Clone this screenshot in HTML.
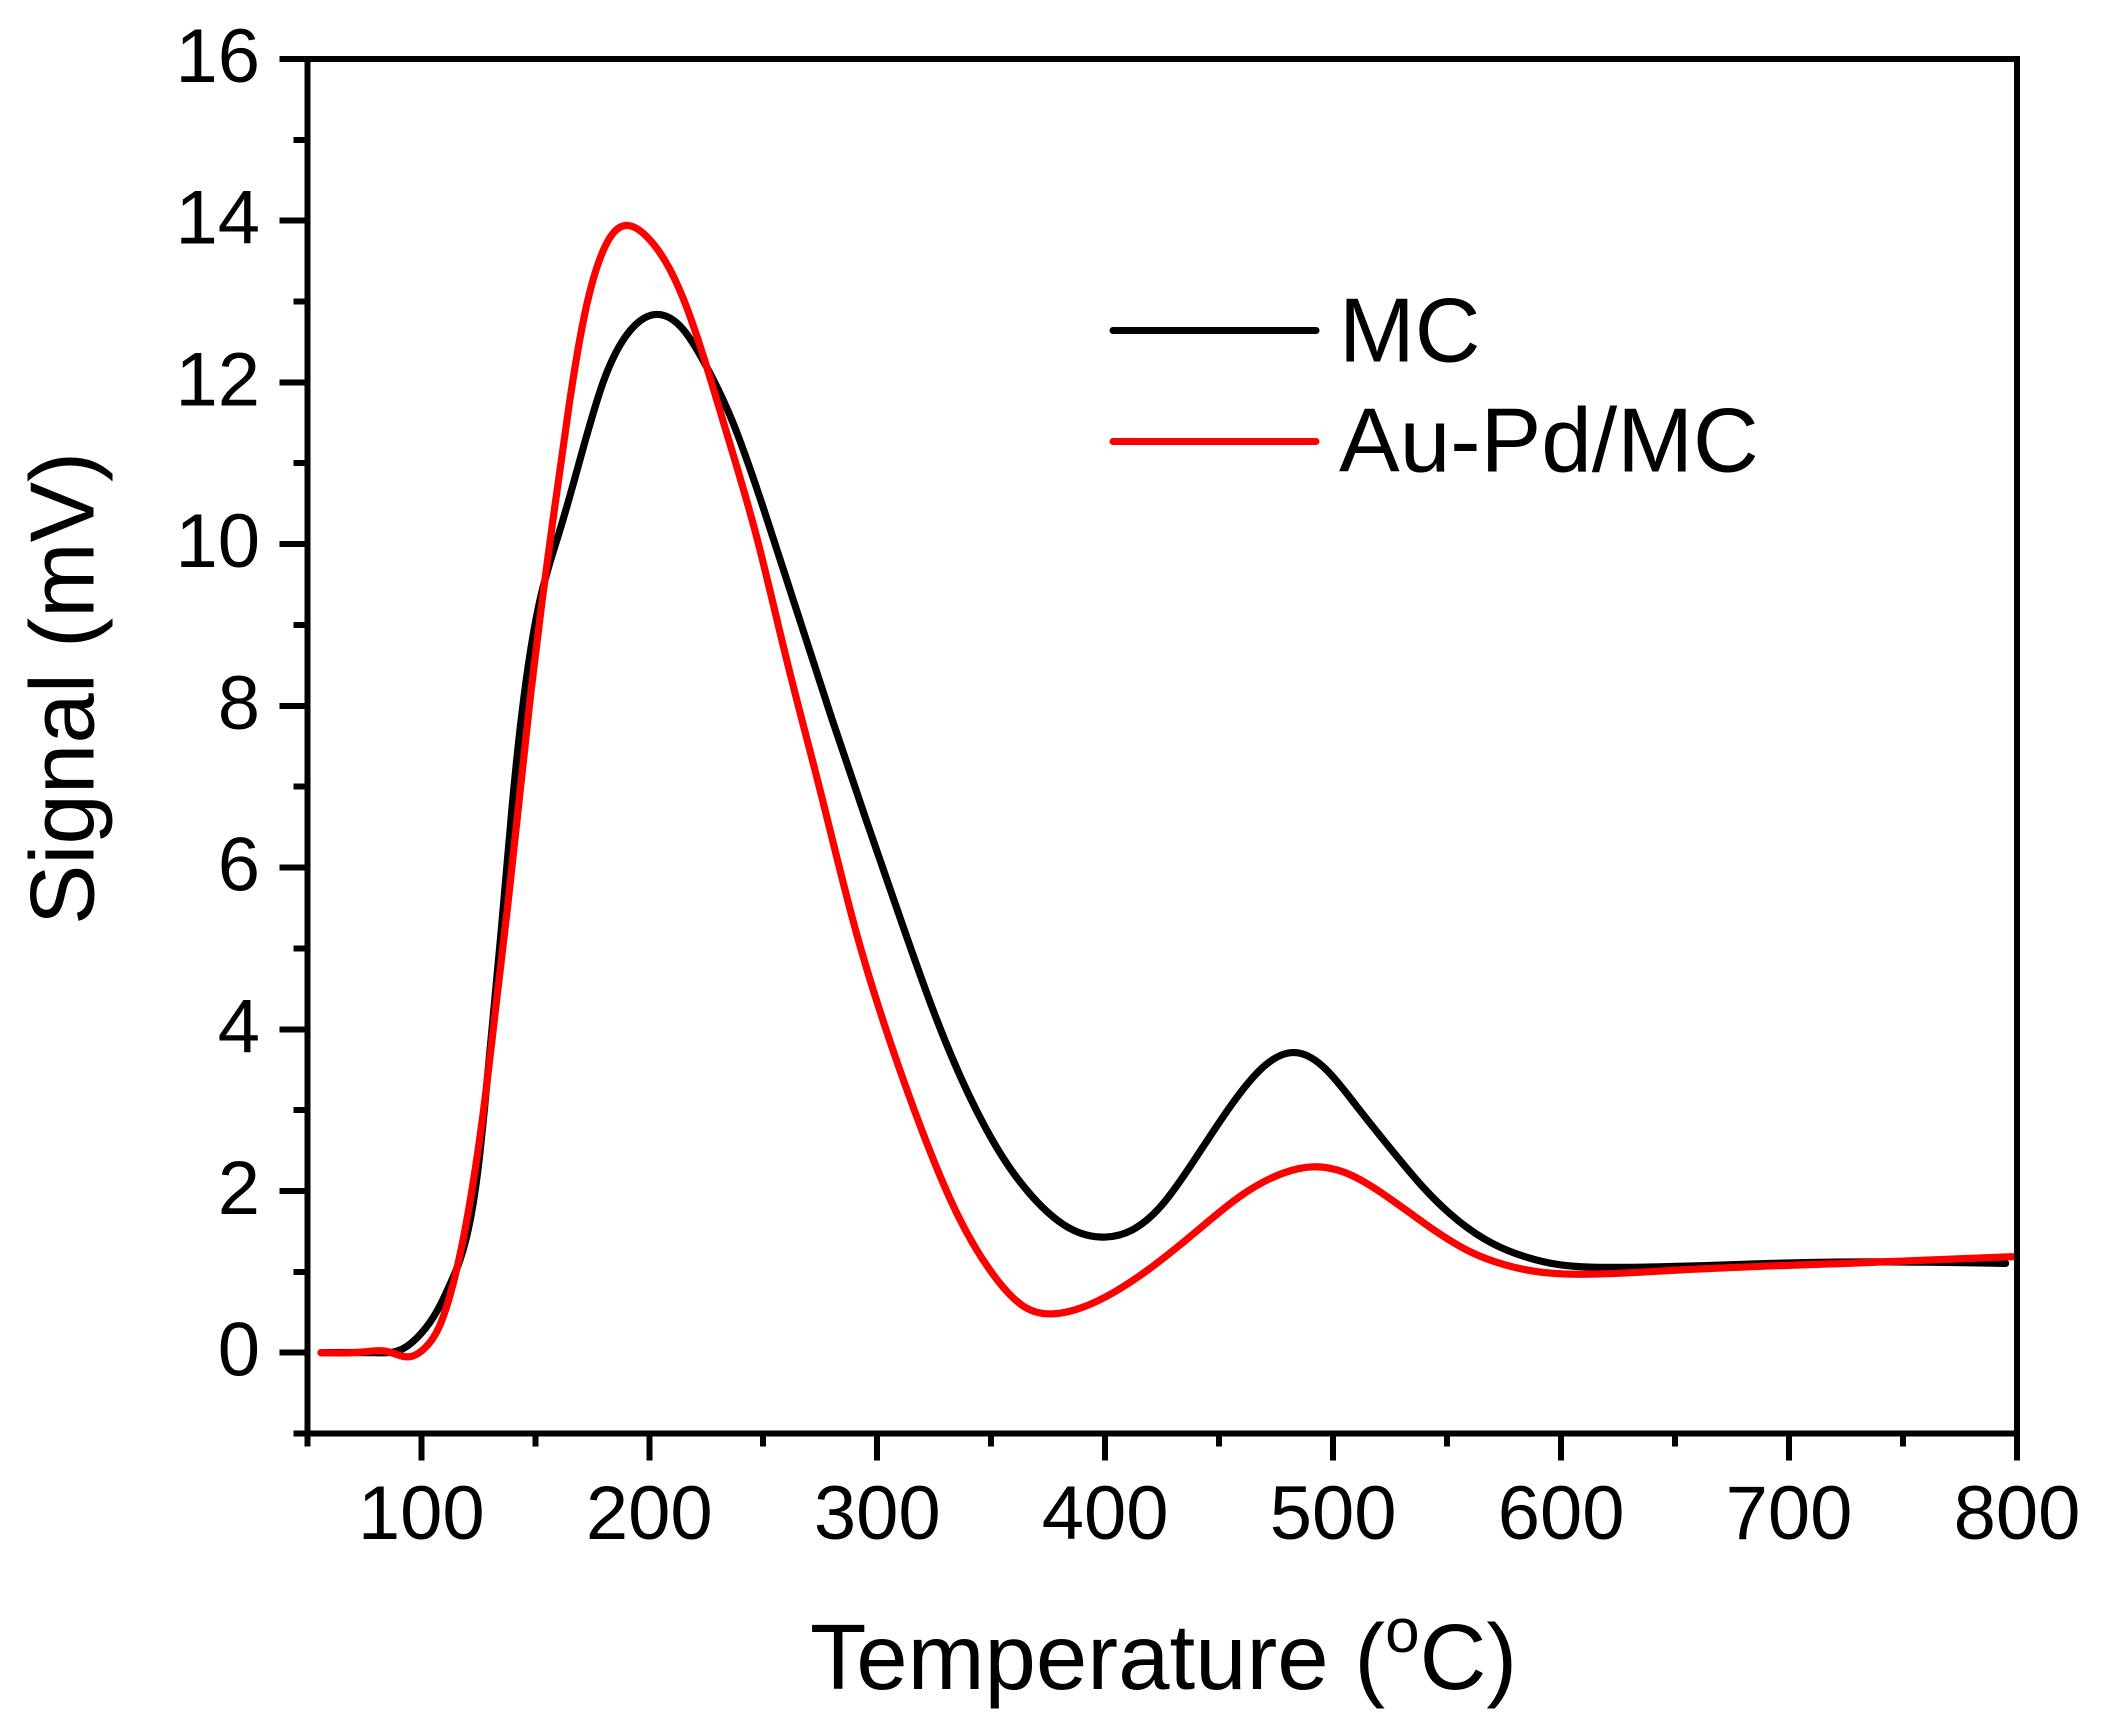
<!DOCTYPE html>
<html lang="en">
<head>
<meta charset="utf-8">
<title>Signal vs Temperature</title>
<style>
  html, body { margin: 0; padding: 0; background: #fff; }
  body { width: 2101px; height: 1725px; overflow: hidden; }
  svg { display: block; }
  text { font-family: "Liberation Sans", Arial, sans-serif; fill: #000; }
</style>
</head>
<body>
<svg id="chart" xmlns="http://www.w3.org/2000/svg" width="2101" height="1725" viewBox="0 0 2101 1725">
  <rect x="0" y="0" width="2101" height="1725" fill="#fff"/>
  <g id="series" fill="none" stroke-width="7.2" stroke-linejoin="round"></g>
  <g id="axes" stroke="#000" stroke-width="6" fill="none"></g>
  <g id="labels" font-size="76"></g>
  <text font-size="90.6" transform="translate(93.5 925) rotate(-90)">Signal (mV)</text>
  <text font-size="92.4" x="810" y="1689">Temperature (<tspan font-size="62" dy="-37">o</tspan><tspan dy="37">C)</tspan></text>
  <g>
    <line x1="1113" y1="330.5" x2="1316" y2="330.5" stroke="#000" stroke-width="7" stroke-linecap="round"/>
    <text font-size="91" x="1339" y="361.5">MC</text>
    <line x1="1113" y1="441.5" x2="1316" y2="441.5" stroke="#f00" stroke-width="7" stroke-linecap="round"/>
    <text font-size="91" x="1339" y="471.5">Au-Pd/MC</text>
  </g>
</svg>
<script>
const xTickValues = [100, 200, 300, 400, 500, 600, 700, 800];
const xMinorTickValues = [50, 150, 250, 350, 450, 550, 650, 750];
const yTickValues = [0, 2, 4, 6, 8, 10, 12, 14, 16];
const yMinorTickValues = [-1, 1, 3, 5, 7, 9, 11, 13, 15];

const mcTemperature = [56, 80, 92, 100, 107, 113, 120, 125, 130, 135, 140, 145, 152, 160, 168, 180, 191, 203, 215, 225, 236, 250, 265, 280, 295, 310, 325, 340, 355, 370, 385, 400, 412, 425, 440, 455, 470, 484, 497, 510, 525, 540, 555, 570, 585, 600, 620, 700, 760, 795];
const mcSignal = [0, 0, 0.05, 0.24, 0.52, 0.87, 1.45, 2.3, 3.7, 5.2, 6.8, 8.1, 9.3, 10.1, 10.88, 12.02, 12.62, 12.84, 12.65, 12.2, 11.55, 10.45, 9.15, 7.85, 6.6, 5.38, 4.2, 3.2, 2.42, 1.87, 1.53, 1.43, 1.52, 1.83, 2.42, 3.05, 3.55, 3.71, 3.5, 3.06, 2.53, 2.03, 1.63, 1.35, 1.18, 1.085, 1.055, 1.11, 1.12, 1.105];

const auPdTemperature = [56, 75, 85, 95, 102, 108, 113, 118, 123, 128, 133, 138, 143, 148, 153, 158, 165, 171, 177, 184, 191, 199, 207, 215, 224, 234, 247, 260, 275, 290, 305, 320, 335, 350, 365, 377, 390, 404, 420, 440, 460, 478, 492, 505, 520, 540, 560, 575, 590, 610, 650, 725, 798];
const auPdSignal = [0, 0.01, 0.015, -0.05, 0.07, 0.33, 0.75, 1.35, 2.15, 3.15, 4.35, 5.55, 6.85, 8.15, 9.3, 10.35, 11.75, 12.75, 13.42, 13.84, 13.94, 13.8, 13.5, 13.03, 12.3, 11.37, 10.1, 8.6, 6.95, 5.28, 3.9, 2.72, 1.72, 1.0, 0.56, 0.48, 0.56, 0.75, 1.05, 1.5, 1.95, 2.22, 2.3, 2.23, 2.0, 1.6, 1.25, 1.09, 1.0, 0.97, 1.02, 1.105, 1.187];

const X_AT_100 = 421.3, PX_PER_DEG = 2.2796;
const Y_AT_0 = 1352.7, PX_PER_MV = 80.86;
const xScale = t => X_AT_100 + (t - 100) * PX_PER_DEG;
const yScale = v => Y_AT_0 - v * PX_PER_MV;

const svgNS = 'http://www.w3.org/2000/svg';
const seriesGroup = document.getElementById('series');
const axesGroup = document.getElementById('axes');
const labelsGroup = document.getElementById('labels');

/* Natural cubic spline through the data knots, expressed as Bezier segments */
function smoothPath(ts, vs) {
  const xs = ts.map(xScale), ys = vs.map(yScale), n = xs.length;
  const h = [];
  for (let i = 0; i < n - 1; i++) h.push(xs[i + 1] - xs[i]);
  const a = new Array(n).fill(0), b = new Array(n).fill(1), c = new Array(n).fill(0), r = new Array(n).fill(0);
  for (let i = 1; i < n - 1; i++) {
    a[i] = h[i - 1];
    b[i] = 2 * (h[i - 1] + h[i]);
    c[i] = h[i];
    r[i] = 6 * ((ys[i + 1] - ys[i]) / h[i] - (ys[i] - ys[i - 1]) / h[i - 1]);
  }
  for (let i = 1; i < n; i++) {
    const w = a[i] / b[i - 1];
    b[i] -= w * c[i - 1];
    r[i] -= w * r[i - 1];
  }
  const m = new Array(n).fill(0);
  m[n - 1] = r[n - 1] / b[n - 1];
  for (let i = n - 2; i >= 0; i--) m[i] = (r[i] - c[i] * m[i + 1]) / b[i];
  let d = 'M' + xs[0].toFixed(2) + ' ' + ys[0].toFixed(2);
  for (let i = 0; i < n - 1; i++) {
    const s = (ys[i + 1] - ys[i]) / h[i];
    const d0 = s - h[i] * (2 * m[i] + m[i + 1]) / 6;
    const d1 = s + h[i] * (m[i] + 2 * m[i + 1]) / 6;
    d += 'C' + (xs[i] + h[i] / 3).toFixed(2) + ' ' + (ys[i] + d0 * h[i] / 3).toFixed(2) + ' ' +
         (xs[i + 1] - h[i] / 3).toFixed(2) + ' ' + (ys[i + 1] - d1 * h[i] / 3).toFixed(2) + ' ' +
         xs[i + 1].toFixed(2) + ' ' + ys[i + 1].toFixed(2);
  }
  return d;
}

const mcLine = document.createElementNS(svgNS, 'path');


mcLine.setAttribute('d', smoothPath(mcTemperature, mcSignal));
mcLine.setAttribute('stroke', '#000');
mcLine.setAttribute('stroke-linecap', 'round');
seriesGroup.appendChild(mcLine);

const auPdLine = document.createElementNS(svgNS, 'path');


auPdLine.setAttribute('d', smoothPath(auPdTemperature, auPdSignal));
auPdLine.setAttribute('stroke', '#f00');
auPdLine.setAttribute('stroke-linecap', 'round');
seriesGroup.appendChild(auPdLine);

function drawLine(x1, y1, x2, y2, name) {
  const l = document.createElementNS(svgNS, 'line');
  l.setAttribute('x1', x1);
  l.setAttribute('y1', y1);
  l.setAttribute('x2', x2);
  l.setAttribute('y2', y2);
  
  
  l.setAttribute('shape-rendering', 'crispEdges');
  axesGroup.appendChild(l);
}

const yTop = yScale(16), yBottom = yScale(-1), xLeft = xScale(50), xRight = xScale(800);
drawLine(xLeft, yTop - 3, xLeft, yBottom + 3, 'y-axis-left');
drawLine(xRight, yTop - 3, xRight, yBottom + 3, 'y-axis-right');
drawLine(xLeft, yTop, xRight + 3, yTop, 'x-axis-top');
drawLine(xLeft, yBottom, xRight + 3, yBottom, 'x-axis-bottom');

xTickValues.forEach(t => {
  drawLine(xScale(t), yBottom, xScale(t), yBottom + 27, 'x-major-tick');
  const label = document.createElementNS(svgNS, 'text');
  
  
  label.setAttribute('x', xScale(t));
  label.setAttribute('y', 1539);
  label.setAttribute('text-anchor', 'middle');
  label.textContent = t;
  labelsGroup.appendChild(label);
});
xMinorTickValues.forEach(t => {
  drawLine(xScale(t), yBottom, xScale(t), yBottom + 13, 'x-minor-tick');
});
yTickValues.forEach(v => {
  drawLine(xLeft - 28, yScale(v), xLeft, yScale(v), 'y-major-tick');
  const label = document.createElementNS(svgNS, 'text');
  
  
  label.setAttribute('x', 260);
  label.setAttribute('y', yScale(v) + 23);
  label.setAttribute('text-anchor', 'end');
  label.textContent = v;
  labelsGroup.appendChild(label);
});
yMinorTickValues.forEach(v => {
  drawLine(xLeft - 14, yScale(v), xLeft, yScale(v), 'y-minor-tick');
});
</script>
</body>
</html>
